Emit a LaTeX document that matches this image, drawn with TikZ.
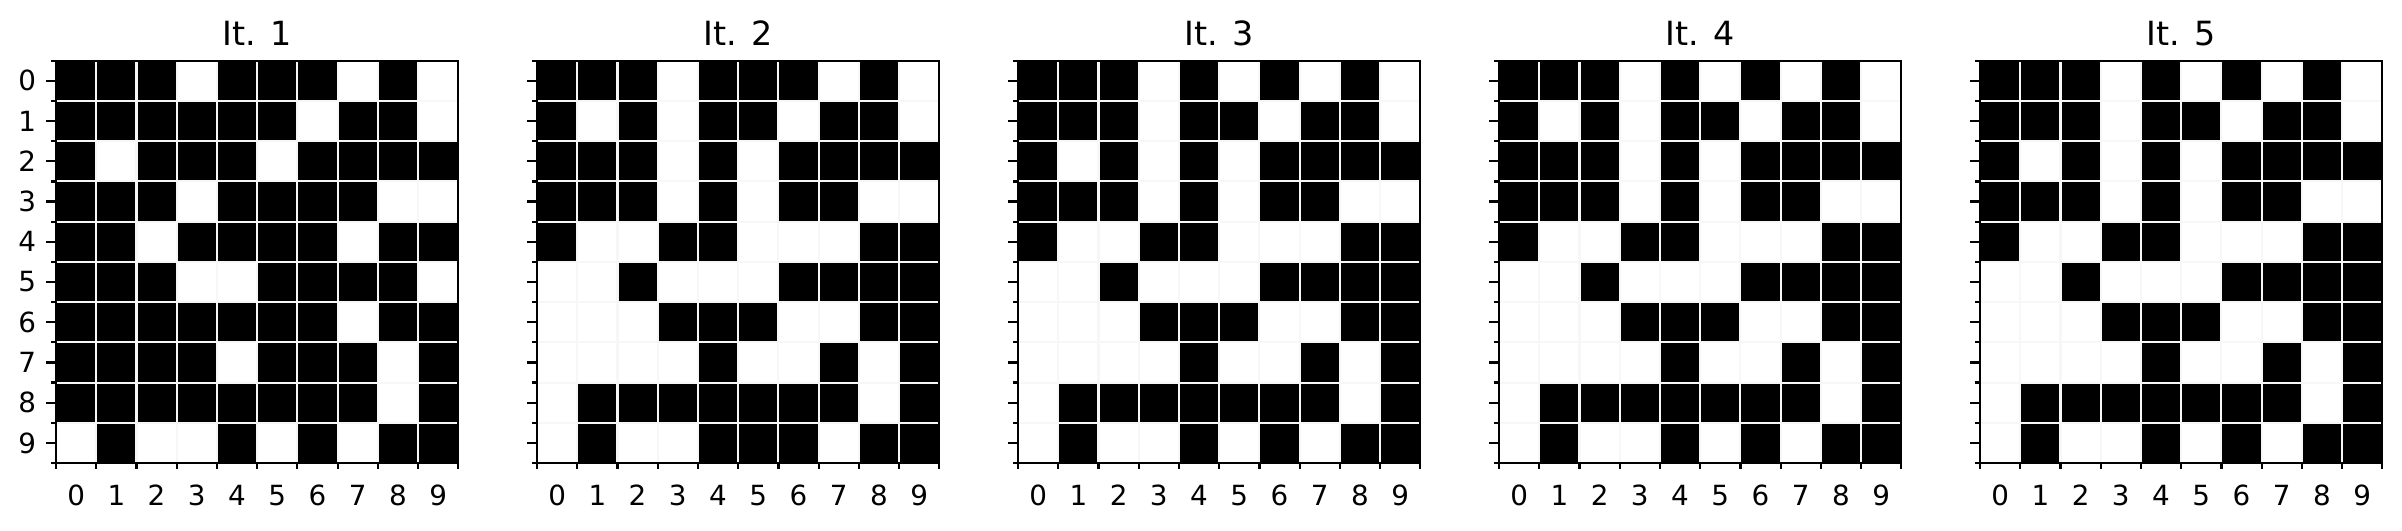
\documentclass[tikz,border=0pt]{standalone}
\usepackage{fontspec}
\setmainfont{DejaVu Sans}
\def\cellsz{40.23}
\def\gsz{402.3}
\tikzset{
  cellfill/.style={fill=black},
  gridline/.style={draw=white!97!black, line width=0.75pt},
  frameline/.style={draw=black, line width=0.8pt},
  tickline/.style={draw=black, line width=0.8pt},
  ticklabel/.style={inner sep=0pt, font=\fontsize{10}{12}\selectfont},
  paneltitle/.style={inner sep=0pt, anchor=base, font=\fontsize{12}{14}\selectfont},
}
\newcommand\drawpanel[3]{%
  \begin{scope}[shift={({56+481*(#1-1)},60.7)}]
    \foreach \r/\row in {#2} {
      \foreach \v [count=\c from 0] in \row {
        \ifnum\v=1 \fill[cellfill] ({\c*\cellsz},{\r*\cellsz}) rectangle ++(\cellsz,\cellsz);\fi
      }
    }
    \foreach \i in {1,...,9} {
      \draw[gridline] ({\i*\cellsz},0) -- ({\i*\cellsz},\gsz);
      \draw[gridline] (0,{\i*\cellsz}) -- (\gsz,{\i*\cellsz});
    }
    \draw[frameline] (0,0) rectangle (\gsz,\gsz);
    \foreach \i in {0,...,9} {
      \draw[tickline] (0,{(\i+0.5)*\cellsz}) -- ++(-9.7,0);
      \node[ticklabel, anchor=base] (xl#1-\i) at ({(\i+0.5)*\cellsz},{\gsz+42}) {\i};
    }
    \foreach \i in {0,...,10} {
      \draw[tickline] (0,{\i*\cellsz}) -- ++(-5.5,0);
      \draw[tickline] ({\i*\cellsz},\gsz) -- ++(0,6);
    }
    #3
    \node[paneltitle] (title#1) at ({\gsz/2},-15.7) {It. #1};
  \end{scope}%
}
\begin{document}
\begin{tikzpicture}[x=0.36pt,y=-0.36pt]
\useasboundingbox (0,0) rectangle (2402,530);
\drawpanel{1}{0/{1,1,1,0,1,1,1,0,1,0},1/{1,1,1,1,1,1,0,1,1,0},2/{1,0,1,1,1,0,1,1,1,1},3/{1,1,1,0,1,1,1,1,0,0},4/{1,1,0,1,1,1,1,0,1,1},5/{1,1,1,0,0,1,1,1,1,0},6/{1,1,1,1,1,1,1,0,1,1},7/{1,1,1,1,0,1,1,1,0,1},8/{1,1,1,1,1,1,1,1,0,1},9/{0,1,0,0,1,0,1,0,1,1}}{%
  \foreach \i in {0,...,9} {\node[ticklabel, anchor=east] (yl-\i) at (-19.5,{(\i+0.5)*\cellsz}) {\i};}}
\drawpanel{2}{0/{1,1,1,0,1,1,1,0,1,0},1/{1,0,1,0,1,1,0,1,1,0},2/{1,1,1,0,1,0,1,1,1,1},3/{1,1,1,0,1,0,1,1,0,0},4/{1,0,0,1,1,0,0,0,1,1},5/{0,0,1,0,0,0,1,1,1,1},6/{0,0,0,1,1,1,0,0,1,1},7/{0,0,0,0,1,0,0,1,0,1},8/{0,1,1,1,1,1,1,1,0,1},9/{0,1,0,0,1,1,1,0,1,1}}{}
\drawpanel{3}{0/{1,1,1,0,1,0,1,0,1,0},1/{1,1,1,0,1,1,0,1,1,0},2/{1,0,1,0,1,0,1,1,1,1},3/{1,1,1,0,1,0,1,1,0,0},4/{1,0,0,1,1,0,0,0,1,1},5/{0,0,1,0,0,0,1,1,1,1},6/{0,0,0,1,1,1,0,0,1,1},7/{0,0,0,0,1,0,0,1,0,1},8/{0,1,1,1,1,1,1,1,0,1},9/{0,1,0,0,1,0,1,0,1,1}}{}
\drawpanel{4}{0/{1,1,1,0,1,0,1,0,1,0},1/{1,0,1,0,1,1,0,1,1,0},2/{1,1,1,0,1,0,1,1,1,1},3/{1,1,1,0,1,0,1,1,0,0},4/{1,0,0,1,1,0,0,0,1,1},5/{0,0,1,0,0,0,1,1,1,1},6/{0,0,0,1,1,1,0,0,1,1},7/{0,0,0,0,1,0,0,1,0,1},8/{0,1,1,1,1,1,1,1,0,1},9/{0,1,0,0,1,0,1,0,1,1}}{}
\drawpanel{5}{0/{1,1,1,0,1,0,1,0,1,0},1/{1,1,1,0,1,1,0,1,1,0},2/{1,0,1,0,1,0,1,1,1,1},3/{1,1,1,0,1,0,1,1,0,0},4/{1,0,0,1,1,0,0,0,1,1},5/{0,0,1,0,0,0,1,1,1,1},6/{0,0,0,1,1,1,0,0,1,1},7/{0,0,0,0,1,0,0,1,0,1},8/{0,1,1,1,1,1,1,1,0,1},9/{0,1,0,0,1,0,1,0,1,1}}{}
\end{tikzpicture}
\end{document}
